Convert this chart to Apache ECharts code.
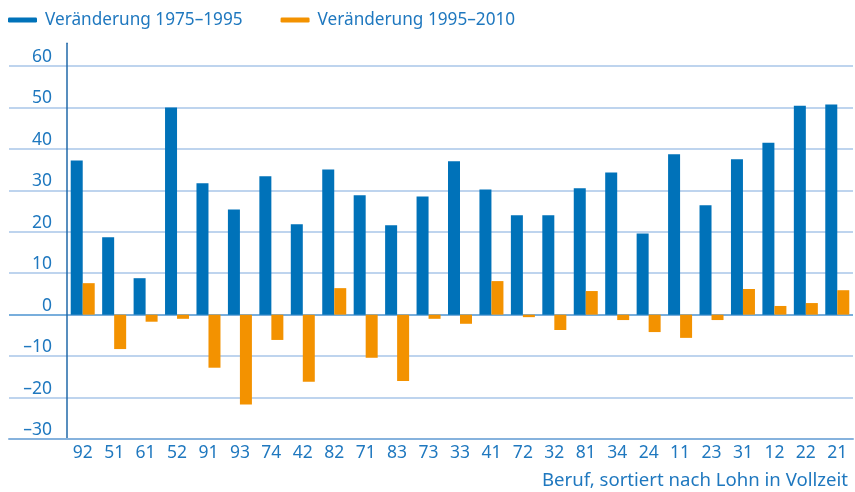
<!DOCTYPE html>
<html>
<head>
<meta charset="utf-8">
<script src="https://cdn.jsdelivr.net/npm/echarts@6/dist/echarts.min.js"></script>
<style>html,body{margin:0;padding:0;background:#fff}#c{width:855px;height:492px}</style>
</head>
<body>
<div id="c"></div>
<script>
const categories = ['92','51','61','52','91','93','74','42','82','71','83','73','33','41','72','32','81','34','24','11','23','31','12','22','21'];
const change1975_1995 = [37.2,18.7,8.8,50.0,31.7,25.4,33.4,21.8,35.0,28.8,21.6,28.5,37.0,30.2,24.0,24.0,30.5,34.3,19.6,38.7,26.4,37.5,41.5,50.4,50.7];
const change1995_2010 = [7.6,-8.3,-1.7,-1.0,-12.8,-21.7,-6.1,-16.2,6.4,-10.4,-16.0,-1.0,-2.2,8.1,-0.6,-3.7,5.7,-1.3,-4.2,-5.6,-1.3,6.2,2.1,2.8,5.9];
const seriesNames = ['Veränderung 1975–1995','Veränderung 1995–2010'];
const axisTitle = 'Beruf, sortiert nach Lohn in Vollzeit';

const FONT = '"Noto Sans"';
const FS = 17.5;
const TXT = '#1f78bf';
const BLUE = '#0072b9';
const ORANGE = '#f39200';
const GRID = '#a9c6e8';
const ZERO = '#4b93d0';

const chart = echarts.init(document.getElementById('c'), null, {renderer:'canvas'});
const fmt = v => (v % 10 !== 0 ? '' : (v < 0 ? '\u2013' + Math.abs(v) : String(v)));
chart.setOption({
  animation:false,
  textStyle:{fontFamily:FONT},
  legend:{
    data:seriesNames, left:8, top:10, padding:0, itemGap:38, itemWidth:29, itemHeight:5,
    icon:'roundRect',
    textStyle:{fontFamily:FONT, fontSize:17.2, color:TXT, lineHeight:20, padding:[0,0,0,3]}
  },
  title:{text:axisTitle, right:7, top:471, padding:0,
    textStyle:{fontFamily:FONT, fontSize:18.6, fontWeight:'normal', color:TXT, lineHeight:20}},
  grid:[
    {left:9, right:2, top:66, bottom:53},
    {left:67, right:2, top:43.2, bottom:53}
  ],
  xAxis:[
    {gridIndex:0, type:'category', data:[], axisLine:{onZero:false, lineStyle:{color:'#86b2dd', width:2}},
     axisTick:{show:false}, axisLabel:{show:false}, splitLine:{show:false}},
    {gridIndex:1, type:'category', data:categories, axisLine:{show:false}, axisTick:{show:false},
     axisLabel:{fontFamily:FONT, fontSize:FS, color:TXT, margin:4, lineHeight:20}}
  ],
  yAxis:[
    {gridIndex:0, type:'value', min:-30, max:60, interval:10, axisLine:{show:false}, axisTick:{show:false},
     axisLabel:{show:false},
     splitLine:{show:true, lineStyle:{color:[GRID,GRID,GRID,ZERO,GRID,GRID,GRID,GRID,GRID,GRID], width:1.5}}},
    {gridIndex:1, type:'value', min:-30, max:65.5, interval:10, axisLine:{show:true, lineStyle:{color:'#2168a8', width:1.5}},
     axisTick:{show:false}, splitLine:{show:false},
     axisLabel:{formatter:fmt, showMaxLabel:false, fontFamily:FONT, fontSize:FS, color:TXT, margin:15,
       verticalAlign:'bottom', lineHeight:18}}
  ],
  series:[
    {name:seriesNames[0], type:'bar', xAxisIndex:1, yAxisIndex:1, data:change1975_1995,
     barWidth:12, barGap:'0%', itemStyle:{color:BLUE}},
    {name:seriesNames[1], type:'bar', xAxisIndex:1, yAxisIndex:1, data:change1995_2010,
     barWidth:12, barGap:'0%', itemStyle:{color:ORANGE}}
  ]
});
</script>
</body>
</html>
